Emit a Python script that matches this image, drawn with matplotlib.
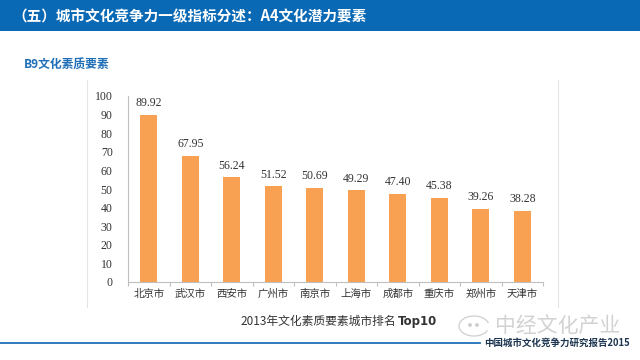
import matplotlib
matplotlib.use("Agg")
import matplotlib.pyplot as plt
from matplotlib.patches import Rectangle, Ellipse, Arc
from matplotlib.lines import Line2D
import numpy as np

plt.rcParams['font.family'] = ['Noto Sans CJK SC', 'DejaVu Sans']

cities = ["北京市", "武汉市", "西安市", "广州市", "南京市",
          "上海市", "成都市", "重庆市", "郑州市", "天津市"]
scores = [89.92, 67.95, 56.24, 51.52, 50.69, 49.29, 47.40, 45.38, 39.26, 38.28]
yticks = [0, 10, 20, 30, 40, 50, 60, 70, 80, 90, 100]

title = "（五）城市文化竞争力一级指标分述：A4文化潜力要素"
subtitle = "B9文化素质要素"
caption = "2013年文化素质要素城市排名"
caption_bold = "Top10"
watermark = "中经文化产业"
footer = "中国城市文化竞争力研究报告2015"

blue = "#0A69B4"
bar_color = "#F9A152"
num_font = ['Liberation Serif', 'DejaVu Serif']

W, H = 640, 360


def fx(px):
    return px / W


def fy(py):
    return 1 - py / H


fig = plt.figure(figsize=(6.4, 3.6), dpi=100)
fig.patch.set_facecolor("white")

# header band
fig.patches.append(Rectangle((0, fy(31)), 1, 31 / H, transform=fig.transFigure,
                             facecolor=blue, edgecolor="none", zorder=0))
fig.text(fx(12), fy(16), title, color="white", fontsize=10.5,
         fontweight="bold", va="center", ha="left")

fig.text(fx(24), fy(65), subtitle, color="#1F6FB8", fontsize=8.5,
         fontweight="bold", va="center", ha="left")

# panel borders
for px in (87, 558):
    fig.lines.append(Line2D([fx(px), fx(px)], [fy(307), fy(80)],
                            transform=fig.transFigure, color="#e4e4e4", lw=0.8))

ax = fig.add_axes([fx(128), fy(282), (543 - 128) / W, (282 - 96) / H])
x = np.arange(len(cities))
bars = ax.bar(x, scores, width=0.4, color=bar_color, zorder=2)
for xi, v in zip(x, scores):
    ax.annotate(f"{v:.2f}", (xi, v), xytext=(0, 4), textcoords="offset points",
                ha="center", va="bottom", fontsize=8.5, color="#333333", family=num_font)

ax.set_xlim(-0.5, len(cities) - 0.5)
ax.set_ylim(0, 100)
ax.set_yticks(yticks)
ax.set_yticklabels([str(t) for t in yticks], family=num_font, fontsize=8.5, color="#333333")
ax.tick_params(axis="y", length=0, pad=11)

ax.set_xticks(np.arange(len(cities) + 1) - 0.5)
ax.set_xticklabels([])
ax.tick_params(axis="x", which="major", length=3, color="#bfbfbf", direction="out")
ax.set_xticks(x, minor=True)
ax.set_xticklabels(cities, minor=True, fontsize=7.5, color="#333333")
ax.tick_params(axis="x", which="minor", length=0, pad=5)

for s in ("top", "right"):
    ax.spines[s].set_visible(False)
for s in ("left", "bottom"):
    ax.spines[s].set_color("#bfbfbf")
    ax.spines[s].set_linewidth(0.8)

# caption
fig.text(fx(396), fy(321), caption, fontsize=8.5, color="#333333",
         ha="right", va="center")
fig.text(fx(398), fy(321), caption_bold, fontsize=8.5, color="#333333",
         fontweight="bold", ha="left", va="center", family=['DejaVu Sans'])

# watermark (icon outline + text)
fig.patches.append(Arc((fx(474), fy(326)), 30 / W, 20 / H, theta1=20, theta2=330,
                       transform=fig.transFigure, color="#cfcfcf", lw=0.9))
for dx in (-4, 3):
    fig.patches.append(Ellipse((fx(474 + dx), fy(325)), 2.5 / W, 2.5 / H,
                               transform=fig.transFigure, color="#cfcfcf"))
fig.text(fx(495), fy(326), watermark, fontsize=15, color="#d2d2d2",
         ha="left", va="center", fontweight="light")

# bottom rule and footer
fig.lines.append(Line2D([0, fx(480)], [fy(343), fy(343)],
                        transform=fig.transFigure, color="#1F6FB8", lw=1.3))
fig.text(fx(484), fy(343), footer, fontsize=6.8, color="#1c3550",
         fontweight="bold", ha="left", va="center")

fig.savefig("out.png", dpi=100, facecolor="white")
